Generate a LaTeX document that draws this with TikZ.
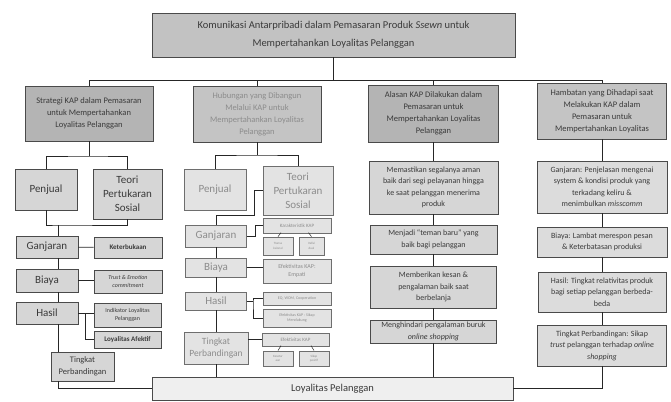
\documentclass[tikz,border=0pt]{standalone}
\usepackage{fontspec}
\setmainfont{Carlito}
\usepackage{xcolor}
\usepackage{tikz}
\usetikzlibrary{positioning}
\definecolor{kapline}{HTML}{4A4A4A}
\definecolor{kaptext}{HTML}{3A3A3A}
\definecolor{kapsoft}{HTML}{8C8C8C}
\definecolor{kaptitle}{HTML}{C2C2C2}
\definecolor{kaphead}{HTML}{B4B4B4}
\definecolor{kapheadlight}{HTML}{C4C4C4}
\definecolor{kapleaf}{HTML}{D6D6D6}
\definecolor{kapleaflight}{HTML}{E3E3E3}
\definecolor{kapbase}{HTML}{EFEFEF}

\begin{document}
\begin{tikzpicture}[
  x=1pt,y=-1pt,
  every node/.style={align=center,inner sep=0pt,text=kaptext},
  link/.style={draw=black!85,line width=0.8pt},
  head/.style={draw=kapline,line width=0.9pt,fill=kaphead,font=\fontsize{8.5}{12}\selectfont},
  leaf/.style={draw=kapline,line width=0.9pt,fill=kapleaf,font=\fontsize{8}{11.5}\selectfont},
  big/.style={leaf,font=\fontsize{11}{14}\selectfont},
  small/.style={leaf,font=\fontsize{6}{8}\selectfont},
  soft/.style={draw=kapline!80,line width=0.8pt,fill=kapleaflight,text=kapsoft,font=\fontsize{11}{14}\selectfont},
  softsmall/.style={soft,font=\fontsize{5}{6.5}\selectfont},
  softtiny/.style={soft,font=\fontsize{3.2}{4.5}\selectfont}
]
\useasboundingbox (0,0) rectangle (671,401);

% top
\node[head,fill=kaptitle,minimum width=363,minimum height=44,font=\fontsize{10.5}{18}\selectfont] (title) at (333.5,35)
  {Komunikasi Antarpribadi dalam Pemasaran Produk \textit{Ssewn} untuk\\Mempertahankan Loyalitas Pelanggan};
\coordinate (bus) at (333.5,80);

% column headers
\node[head,minimum width=128,minimum height=55] (s1) at (89,113.5)
  {Strategi KAP dalam Pemasaran\\untuk Mempertahankan\\Loyalitas Pelanggan};
\node[head,fill=kapheadlight,text=kapsoft,minimum width=128,minimum height=56] (h2) at (257,114)
  {Hubungan yang Dibangun\\Melalui KAP untuk\\Mempertahankan Loyalitas\\Pelanggan};
\node[head,minimum width=130,minimum height=57] (h3) at (433.5,113.5)
  {Alasan KAP Dilakukan dalam\\Pemasaran untuk\\Mempertahankan Loyalitas\\Pelanggan};
\node[head,fill=kapheadlight,minimum width=129,minimum height=56] (h4) at (602,111)
  {Hambatan yang Dihadapi saat\\Melakukan KAP dalam\\Pemasaran untuk\\Mempertahankan Loyalitas};

\draw[link] (title) -- (bus);
\draw[link] (s1.north) -- (s1.north |- bus) -- (h4.north |- bus) -- (h4.north);
\draw[link] (h2.north) -- (h2.north |- bus);
\draw[link] (h3.north) -- (h3.north |- bus);

% column 1
\node[big,minimum width=62,minimum height=41] (pj1) at (46,189.5) {Penjual};
\node[big,minimum width=69,minimum height=50] (tps1) at (127.5,194) {Teori\\Pertukaran\\Sosial};
\coordinate (c1top) at (89,156);
\coordinate (c1mid) at (58,225);
\node[big,minimum width=62,minimum height=22] (gj1) at (47,247) {Ganjaran};
\node[small,font=\bfseries\fontsize{7}{9}\selectfont,minimum width=68,minimum height=21] (kt1) at (128,247.5) {Keterbukaan};
\node[big,minimum width=62,minimum height=23] (by1) at (47,280.5) {Biaya};
\node[small,font=\itshape\fontsize{6}{8}\selectfont,minimum width=68,minimum height=23] (tr1) at (128,281.5) {Trust \& Emotion\\commitment};
\node[big,minimum width=62,minimum height=22] (hs1) at (47,313) {Hasil};
\node[small,minimum width=67,minimum height=24] (ind1) at (127.5,315) {Indikator Loyalitas\\Pelanggan};
\node[small,font=\bfseries\fontsize{7}{9}\selectfont,minimum width=67,minimum height=17] (la1) at (127.5,339.5) {Loyalitas Afektif};
\coordinate (hb1) at (85,313);
\node[leaf,font=\fontsize{8.5}{11.5}\selectfont,minimum width=63,minimum height=29] (tb1) at (82.5,366.5) {Tingkat\\Perbandingan};

\draw[link] (s1) -- (c1top);
\draw[link] (pj1.north) |- (c1top) -| (tps1.north);
\draw[link] (pj1.south) |- (c1mid) -| (tps1.south);
\draw[link] (c1mid) -- (c1mid |- gj1.north);
\draw[link] (c1mid |- gj1.south) -- (c1mid |- by1.north);
\draw[link] (c1mid |- by1.south) -- (c1mid |- hs1.north);
\draw[link] (c1mid |- hs1.south) -- (c1mid |- tb1.north);
\draw[link] (gj1) -- (kt1);
\draw[link] (by1.east) -- (by1.east -| tr1.west);
\draw[link] (hs1.east) -- (hs1.east -| ind1.west);
\draw[link] (hb1) |- (la1.west);

% column 2
\node[soft,minimum width=62,minimum height=41] (pj2) at (215,189.5) {Penjual};
\node[soft,minimum width=70,minimum height=49] (tps2) at (298,190.5) {Teori\\Pertukaran\\Sosial};
\coordinate (c2top) at (257,155);
\coordinate (c2mid) at (254,215);
\node[soft,minimum width=61,minimum height=22] (gj2) at (216,236) {Ganjaran};
\node[softsmall,minimum width=68,minimum height=15] (kk2) at (297,225.5) {Karakteristik KAP};
\node[softtiny,minimum width=30,minimum height=18] (ta2) at (278,246) {Transa\\ksional};
\node[softtiny,minimum width=25,minimum height=18] (in2) at (311.5,246) {Indivi\\dual};
\node[soft,minimum width=61,minimum height=19] (by2) at (216,267.5) {Biaya};
\node[softsmall,font=\fontsize{6}{8}\selectfont,minimum width=68,minimum height=24] (em2) at (297,271) {Efektivitas KAP:\\Empati};
\node[soft,minimum width=61,minimum height=18] (hs2) at (216,301) {Hasil};
\node[softsmall,font=\fontsize{4}{5.5}\selectfont,minimum width=68,minimum height=13] (eq2) at (297,298.5) {EQ, WOM, Cooperation};
\node[softsmall,font=\fontsize{4}{5.5}\selectfont,minimum width=68,minimum height=18] (sm2) at (297,318) {Efektivitas KAP : Sikap\\Mendukung};
\coordinate (hb2) at (253,301);
\node[soft,font=\fontsize{9.5}{12}\selectfont,minimum width=64,minimum height=32] (tb2) at (216,348) {Tingkat\\Perbandingan};
\node[softsmall,minimum width=67,minimum height=13] (ef2) at (295.5,339.5) {Efektivitas KAP};
\node[softtiny,minimum width=30,minimum height=15] (ks2) at (278,358.5) {Kesetar\\aan};
\node[softtiny,minimum width=30,minimum height=15] (sp2) at (314,358.5) {Sikap\\positif};

\draw[link] (h2) -- (c2top);
\draw[link] (pj2.north) |- (c2top) -| (tps2.north);
\draw[link] (tps2.west) -| (c2mid) -| (gj2.north);
\draw[link] (gj2) -- (by2);
\draw[link] (by2) -- (hs2);
\draw[link] (hs2) -- (tb2);
\draw[link] (gj2.east) -- ++(8,0) |- (kk2.west);
\draw[link,line width=0.5pt] (ta2.north) -- +(3,-4);
\draw[link,line width=0.5pt] (in2.north) -- +(-3,-4);
\draw[link] (by2.east) -- (by2.east -| em2.west);
\draw[link] (hs2.east) -- (hb2);
\draw[link] (eq2.west) -| (hb2) |- (sm2.west);
\draw[link] (ef2.west) -- (ef2.west -| tb2.east);
\draw[link,line width=0.5pt] (ks2.north) -- +(3,-5);
\draw[link,line width=0.5pt] (sp2.north) -- +(-3,-5);

% column 3
\node[leaf,minimum width=129,minimum height=53] (r1) at (433.5,187.5)
  {Memastikan segalanya aman\\baik dari segi pelayanan hingga\\ke saat pelanggan menerima\\produk};
\node[leaf,minimum width=127,minimum height=29] (r2) at (433.5,239.5)
  {Menjadi ``teman baru'' yang\\baik bagi pelanggan};
\node[leaf,minimum width=126,minimum height=42] (r3) at (433.5,287)
  {Memberikan kesan \&\\pengalaman baik saat\\berbelanja};
\node[leaf,minimum width=126,minimum height=23] (r4) at (433.5,331.5)
  {Menghindari pengalaman buruk\\\textit{online shopping}};

\draw[link] (h3) -- (r1) -- (r2) -- (r3) -- (r4);

% column 4
\node[leaf,fill=kapleaf!85!white,minimum width=130,minimum height=52] (g4) at (602,187)
  {Ganjaran: Penjelasan mengenai\\system \& kondisi produk yang\\terkadang keliru \&\\menimbulkan \textit{misscomm}};
\node[leaf,fill=kapleaf!85!white,minimum width=130,minimum height=30] (b4) at (602,242)
  {Biaya: Lambat merespon pesan\\\& Keterbatasan produksi};
\node[leaf,fill=kapleaf!85!white,minimum width=128,minimum height=40] (hs4) at (602,292)
  {Hasil: Tingkat relativitas produk\\bagi setiap pelanggan berbeda-\\beda};
\node[leaf,fill=kapleaf!85!white,minimum width=129,minimum height=41] (tp4) at (602,345.5)
  {Tingkat Perbandingan: Sikap\\\textit{trust} pelanggan terhadap \textit{online}\\\textit{shopping}};

\draw[link] (h4) -- (g4) -- (b4) -- (hs4) -- (tp4);

% base
\node[leaf,fill=kapbase,font=\fontsize{10.5}{13}\selectfont,minimum width=361,minimum height=23] (loy) at (332.5,388.5) {Loyalitas Pelanggan};

\draw[link] (c1mid |- tb1.south) |- (loy.west);
\draw[link] (tb2) -- (tb2 |- loy.north);
\draw[link] (r4) -- (r4 |- loy.north);
\draw[link] (tp4) |- (loy.east);
\end{tikzpicture}
\end{document}
